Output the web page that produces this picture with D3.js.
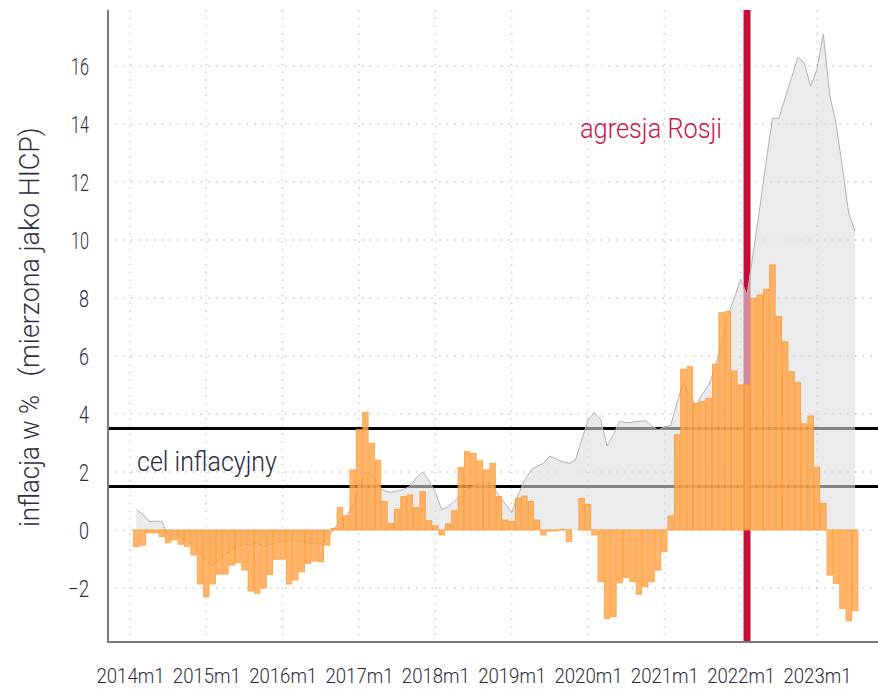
<!DOCTYPE html>
<html>
<head>
<meta charset="utf-8">
<script src="https://cdn.jsdelivr.net/npm/d3@7"></script>
<style>
  html, body { margin: 0; padding: 0; background: #fff; }
  svg { display: block; }
  text { font-family: Roboto, "Open Sans", sans-serif; font-weight: 300; }
</style>
</head>
<body>
<svg id="chart" width="878" height="689"></svg>
<script>
// ---- data (month index 0 = 2014m1; series start at 2014m2) ----
const firstMonthIndex = 1;
// orange bars: difference series, 2014m2 .. 2023m7
const barValues = [
  -0.57, -0.52, -0.09, -0.10, -0.23, -0.44, -0.33, -0.49, -0.56, -0.86, -1.86,
  -2.30, -1.86, -1.52, -1.52, -1.21, -1.13, -1.38, -2.10, -2.18, -2.00, -1.53, -1.01,
  -1.00, -1.86, -1.72, -1.44, -1.15, -1.07, -1.09, -0.52, 0.05, 0.77, 0.49, 2.07,
  3.47, 4.06, 2.99, 2.41, 0.98, 0.23, 0.71, 1.15, 1.21, 0.77, 1.32, 0.32,
  0.14, -0.17, 0.21, 0.66, 2.15, 2.70, 2.64, 2.38, 2.07, 2.30, 1.15, 0.34,
  0.29, 1.09, 1.17, 0.98, 0.34, -0.17, -0.03, -0.03, 0.02, -0.40, 0.00, 1.09,
  0.88, -0.17, -1.78, -3.05, -2.99, -1.82, -1.63, -1.78, -2.21, -1.95, -1.78, -1.38,
  -0.75, 0.48, 3.28, 5.54, 5.63, 4.37, 4.43, 4.54, 5.72, 7.49, 7.53, 5.48,
  5.00, 5.03, 7.99, 8.10, 8.30, 9.14, 7.36, 6.49, 5.46, 5.08, 3.66, 3.93,
  2.16, 0.92, -1.55, -1.84, -2.70, -3.13, -2.78
];
// grey area: HICP inflation, 2014m2 .. 2023m7
const hicpValues = [
  0.70, 0.55, 0.30, 0.30, 0.30, -0.20, -0.15, -0.25, -0.40, -0.55, -0.80,
  -1.10, -1.24, -1.00, -0.85, -0.70, -0.55, -0.50, -0.50, -0.45, -0.57, -0.50, -0.45,
  -0.40, -0.37, -0.40, -0.40, -0.45, -0.45, -0.46, -0.30, 0.00, 0.30, 0.50, 0.80,
  1.50, 2.00, 1.90, 1.50, 1.35, 1.30, 1.35, 1.40, 1.50, 1.80, 2.00, 1.70,
  1.30, 0.70, 0.80, 1.00, 1.20, 1.40, 1.50, 1.60, 1.70, 1.50, 1.20, 0.90,
  0.60, 1.20, 1.70, 2.05, 2.20, 2.30, 2.55, 2.45, 2.35, 2.30, 2.40, 3.10,
  3.80, 4.05, 3.80, 2.90, 3.30, 3.75, 3.70, 3.72, 3.75, 3.77, 3.60, 3.45,
  3.55, 3.60, 4.40, 5.10, 4.60, 4.30, 4.70, 5.00, 5.60, 6.40, 7.40, 8.00,
  8.65, 8.10, 9.60, 11.10, 12.70, 14.20, 14.20, 14.90, 15.60, 16.30, 16.10, 15.30,
  15.90, 17.10, 15.00, 14.00, 12.50, 10.90, 10.30
];
const xTickMonths = [0, 12, 24, 36, 48, 60, 72, 84, 96, 108];
const xTickLabels = ["2014m1", "2015m1", "2016m1", "2017m1", "2018m1", "2019m1", "2020m1", "2021m1", "2022m1", "2023m1"];
const yTicks = [-2, 0, 2, 4, 6, 8, 10, 12, 14, 16];
const targetLines = [1.5, 3.5];
const invasionMonth = 97; // 2022m2
const yTitleParts = ["inflacja w %", "(mierzona jako HICP)"];
const targetLabel = "cel inflacyjny";
const invasionLabel = "agresja Rosji";

// ---- layout ----
const plotLeft = 108, plotRight = 878, plotTop = 10, plotBottom = 642;

const x = d3.scaleLinear().domain([0, 108]).range([130, 817]);
const y = d3.scaleLinear().domain([-2, 16]).range([588, 66]);
const step = x(1) - x(0);

const svg = d3.select("#chart");

// grid
const grid = svg.append("g");
grid.selectAll("line.h").data(yTicks).join("line")
  .attr("x1", plotLeft).attr("x2", plotRight)
  .attr("y1", d => y(d)).attr("y2", d => y(d))
  .attr("stroke", "#c4c4c4").attr("stroke-width", 1.3)
  .attr("stroke-dasharray", "1.4,6.3");
grid.selectAll("line.v").data(xTickMonths).join("line")
  .attr("x1", d => x(d)).attr("x2", d => x(d))
  .attr("y1", plotTop).attr("y2", plotBottom)
  .attr("stroke", "#c4c4c4").attr("stroke-width", 1.3)
  .attr("stroke-dasharray", "1.4,6.3");

// target lines
svg.append("g").selectAll("line").data(targetLines).join("line")
  .attr("x1", plotLeft).attr("x2", plotRight)
  .attr("y1", d => y(d)).attr("y2", d => y(d))
  .attr("stroke", "#000").attr("stroke-width", 3);

// invasion line
svg.append("line")
  .attr("x1", x(invasionMonth)).attr("x2", x(invasionMonth))
  .attr("y1", plotTop).attr("y2", plotBottom)
  .attr("stroke", "#c50d3b").attr("stroke-width", 7);

// HICP area
const hicp = hicpValues.map((v, i) => ({ m: i + firstMonthIndex, v }));
svg.append("path").datum(hicp)
  .attr("d", d3.area().x(d => x(d.m)).y0(y(0)).y1(d => y(d.v)))
  .attr("fill", "rgb(222,222,222)").attr("fill-opacity", 0.6);
svg.append("path").datum(hicp)
  .attr("d", d3.line().x(d => x(d.m)).y(d => y(d.v)))
  .attr("fill", "none").attr("stroke", "#b2b2b2").attr("stroke-width", 1);

// bars
const bars = barValues.map((v, i) => ({ m: i + firstMonthIndex, v }));
svg.append("g").selectAll("rect").data(bars).join("rect")
  .attr("x", d => x(d.m) - (step - 1) / 2)
  .attr("width", step - 1)
  .attr("y", d => Math.min(y(d.v), y(0)))
  .attr("height", d => Math.abs(y(d.v) - y(0)))
  .attr("fill", "#ffa84f").attr("stroke", "#ff9424").attr("stroke-width", 1)
  .attr("opacity", 0.84);

// axes lines
svg.append("line").attr("x1", plotLeft).attr("x2", plotLeft).attr("y1", plotTop).attr("y2", plotBottom + 1)
  .attr("stroke", "#7a7a7a").attr("stroke-width", 2);
svg.append("line").attr("x1", plotLeft - 1).attr("x2", plotRight).attr("y1", plotBottom).attr("y2", plotBottom)
  .attr("stroke", "#7a7a7a").attr("stroke-width", 2);

// x axis labels
const xAxis = d3.axisBottom(x).tickValues(xTickMonths)
  .tickFormat((d, i) => xTickLabels[i]).tickSize(0).tickPadding(0);
const gx = svg.append("g").attr("transform", `translate(0,${plotBottom})`).call(xAxis);
gx.select(".domain").remove();
gx.selectAll("text")
  .attr("y", 41).attr("dy", null)
  .attr("font-size", 21).attr("fill", "#2b2b3b")
  .attr("font-family", "Roboto, sans-serif")
  .attr("textLength", 68).attr("lengthAdjust", "spacingAndGlyphs");

// y axis labels
const yAxis = d3.axisLeft(y).tickValues(yTicks).tickSize(0).tickPadding(0);
const gy = svg.append("g").attr("transform", `translate(89,0)`).call(yAxis);
gy.select(".domain").remove();
gy.selectAll("text")
  .attr("x", 0).attr("dy", null).attr("y", 8.5)
  .attr("font-size", 23.5).attr("fill", "#2b2b3b")
  .attr("font-family", "Roboto, sans-serif")
  .attr("textLength", d => (d < 0 ? 21 : (String(d).length === 1 ? 10 : 18)))
  .attr("lengthAdjust", "spacingAndGlyphs");

// y title
const yTitleCenters = [461, 252];
const yTitleLengths = [132, 249];
yTitleParts.forEach((t, i) => {
  svg.append("text")
    .attr("transform", `translate(39,${yTitleCenters[i]}) rotate(-90)`)
    .attr("text-anchor", "middle")
    .attr("font-size", 27).attr("fill", "#2e2e3e")
    .attr("textLength", yTitleLengths[i]).attr("lengthAdjust", "spacingAndGlyphs")
    .text(t);
});

// annotations
svg.append("text").attr("x", 137).attr("y", 471)
  .attr("font-size", 28).attr("fill", "#2a2a3c")
  .attr("textLength", 140).attr("lengthAdjust", "spacingAndGlyphs")
  .text(targetLabel);
svg.append("text").attr("x", 580).attr("y", 138)
  .attr("font-size", 28).attr("fill", "#c8144a")
  .attr("textLength", 142).attr("lengthAdjust", "spacingAndGlyphs")
  .text(invasionLabel);
</script>
</body>
</html>
